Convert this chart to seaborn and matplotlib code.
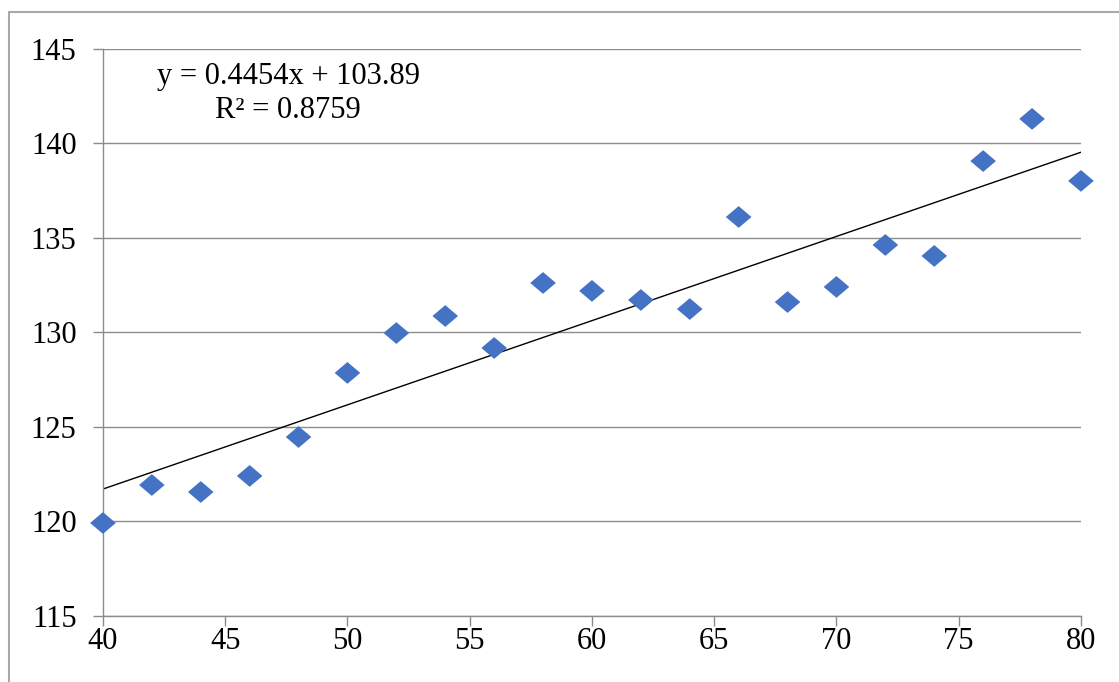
import numpy as np
import pandas as pd
import seaborn as sns
import matplotlib.pyplot as plt
from matplotlib.patches import Rectangle

# значения
x_vals = [40, 42, 44, 46, 48, 50, 52, 54, 56, 58, 60, 62, 64, 66, 68, 70, 72, 74, 76, 78, 80]
y_vals = [119.92, 121.93, 121.56, 122.41, 124.47, 127.86, 129.97, 130.87, 129.18, 132.62,
          132.20, 131.72, 131.24, 136.11, 131.61, 132.41, 134.63, 134.05, 139.07, 141.30, 138.02]
x_ticks = [40, 45, 50, 55, 60, 65, 70, 75, 80]
y_ticks = [115, 120, 125, 130, 135, 140, 145]
equation_text = "y = 0.4454x + 103.89\nR² = 0.8759"

sns.set_style("white")
plt.rcParams['font.family'] = ['Liberation Serif', 'DejaVu Serif']

df = pd.DataFrame({'x': x_vals, 'y': y_vals})

fig = plt.figure(figsize=(11.19, 6.82), dpi=100)
ax = fig.add_axes([0.092, 0.0968, 0.874, 0.8314])

grid_color = '#8c8c8c'
for yv in y_ticks:
    ax.axhline(yv, color=grid_color, lw=1.0, zorder=0)

# линия тренда
sns.regplot(data=df, x='x', y='y', ci=None, scatter=False, ax=ax,
            line_kws={'color': 'black', 'lw': 1.0, 'zorder': 2})

diamond = [(-1, 0), (0, 0.85), (1, 0), (0, -0.85), (-1, 0)]
sns.scatterplot(data=df, x='x', y='y', ax=ax, marker=diamond, s=340,
                color='#4472C4', edgecolor='none', linewidth=0, zorder=3, clip_on=False)

ax.set_xlim(40, 80)
ax.set_ylim(115, 145)
ax.set_xticks(x_ticks)
ax.set_yticks(y_ticks)
ax.set_xlabel('')
ax.set_ylabel('')

for side in ['top', 'right']:
    ax.spines[side].set_visible(False)
for side in ['left', 'bottom']:
    ax.spines[side].set_color(grid_color)
    ax.spines[side].set_linewidth(1.0)

ax.tick_params(axis='both', which='major', direction='out', length=7, width=1.0,
               color=grid_color, labelsize=22, labelcolor='black')
ax.tick_params(axis='x', pad=1)
ax.tick_params(axis='y', pad=12)
ax.tick_params(bottom=True, left=True)

ax.text(47.57, 142.65, equation_text, ha='center', va='center', multialignment='center',
        fontsize=22, color='black', linespacing=1.2)

# рамка вокруг диаграммы
fig.patches.append(Rectangle((9 / 1119, -0.2), 1.2, 1.2 - 12 / 682,
                             transform=fig.transFigure, fill=False,
                             edgecolor='#a8a8a8', lw=1.5))

fig.savefig('out.png', dpi=100)
